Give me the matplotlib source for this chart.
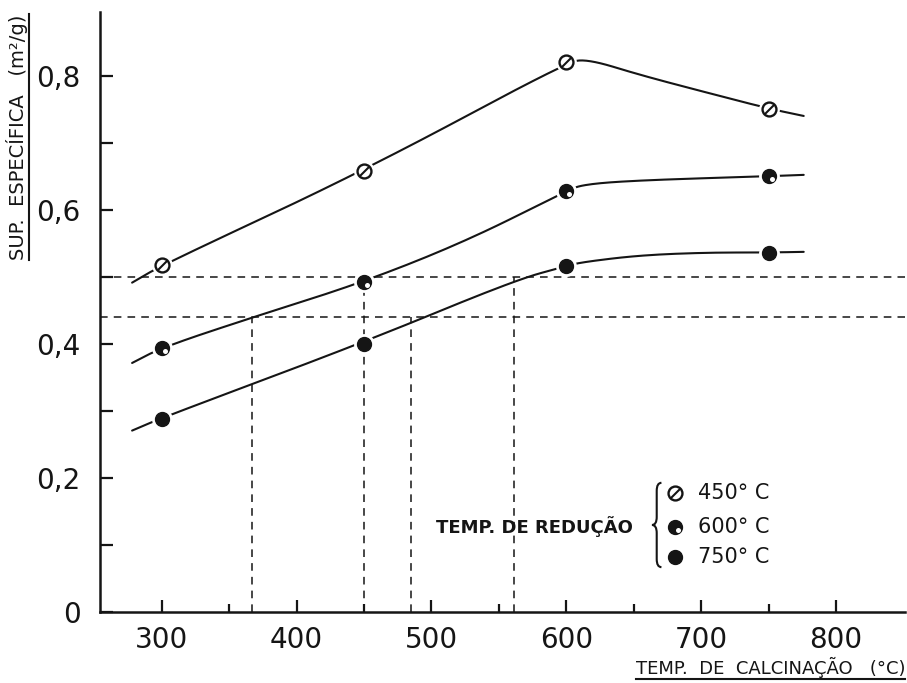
import numpy as np
import matplotlib
matplotlib.use("Agg")
import matplotlib.pyplot as plt
from matplotlib.path import Path
from matplotlib.patches import PathPatch
from matplotlib.lines import Line2D
import matplotlib.transforms as mtransforms

# ---------------- data ----------------
temps = [300, 450, 600, 750]                 # calcination temperature (°C)
s450 = [0.518, 0.659, 0.821, 0.752]          # reduction at 450 °C
s600 = [0.395, 0.493, 0.629, 0.651]          # reduction at 600 °C
s750 = [0.288, 0.400, 0.517, 0.537]          # reduction at 750 °C

# hand-drawn fitted curves (guide points)
curve450_x = [278, 300, 450, 600, 616, 655, 704, 750, 776]
curve450_y = [0.492, 0.518, 0.659, 0.821, 0.826, 0.802, 0.776, 0.752, 0.741]
curve600_x = [278, 300, 367, 450, 528, 600, 613, 655, 750, 776]
curve600_y = [0.372, 0.395, 0.440, 0.493, 0.556, 0.629, 0.639, 0.645, 0.651, 0.653]
curve750_x = [278, 300, 450, 561, 600, 613, 655, 704, 750, 776]
curve750_y = [0.271, 0.290, 0.403, 0.495, 0.517, 0.523, 0.533, 0.537, 0.537, 0.538]

# dashed reading guides
guide_levels = [0.50, 0.44]
guide_x = [367, 450, 485, 561]
guide_top = [0.44, 0.50, 0.44, 0.50]

xticks = [300, 400, 500, 600, 700, 800]
xticklabels = ["300", "400", "500", "600", "700", "800"]
yticks = [0.0, 0.2, 0.4, 0.6, 0.8]
yticklabels = ["0", "0,2", "0,4", "0,6", "0,8"]
legend_labels = ["450° C", "600° C", "750° C"]


def chaikin(x, y, n=4):
    pts = np.column_stack([np.asarray(x, float), np.asarray(y, float)])
    for _ in range(n):
        p0, p1 = pts[:-1], pts[1:]
        q = 0.75 * p0 + 0.25 * p1
        r = 0.25 * p0 + 0.75 * p1
        new = np.empty((2 * len(p0), 2))
        new[0::2] = q
        new[1::2] = r
        pts = np.vstack([pts[:1], new, pts[-1:]])
    return pts[:, 0], pts[:, 1]


fig = plt.figure(figsize=(9.07, 6.83), dpi=100)
ax = fig.add_axes([100 / 907, 71 / 683, 805 / 907, 600 / 683])
ax.set_xlim(254.2, 851.1)
ax.set_ylim(0, 0.8963)

ink = "#151515"

# dashed guides
for lv in guide_levels:
    ax.axhline(lv, color=ink, lw=1.1, ls=(0, (5, 4)), zorder=1.5)
for gx, gt in zip(guide_x, guide_top):
    ax.plot([gx, gx], [0, gt], color=ink, lw=1.1, ls=(0, (5, 4)), zorder=1.5)

# curves
for cx, cy in [(curve450_x, curve450_y), (curve600_x, curve600_y),
               (curve750_x, curve750_y)]:
    xs, ys = chaikin(cx, cy)
    ax.plot(xs, ys, color=ink, lw=1.5, zorder=2, solid_capstyle="round")

# white halos around markers
for s in (s450, s600, s750):
    ax.plot(temps, s, ls="none", marker="o", ms=15, mfc="white", mec="none", zorder=3)

slash = Path([(-0.6, -0.6), (0.6, 0.6)], [Path.MOVETO, Path.LINETO])
hl = mtransforms.ScaledTranslation(2.2 / 72, -2.2 / 72, fig.dpi_scale_trans)


def draw_marker(xs, ys, kind):
    if kind == 0:
        ax.plot(xs, ys, ls="none", marker="o", ms=10, mfc="white", mec=ink, mew=1.7, zorder=4)
        ax.plot(xs, ys, ls="none", marker=slash, ms=6.5, mec=ink, mew=1.5, zorder=5)
    elif kind == 1:
        ax.plot(xs, ys, ls="none", marker="o", ms=10, mfc=ink, mec=ink, mew=1.0, zorder=4)
        ax.plot(xs, ys, ls="none", marker="o", ms=3.6, mfc="white", mec="none",
                zorder=5, transform=ax.transData + hl)
    else:
        ax.plot(xs, ys, ls="none", marker="o", ms=10, mfc=ink, mec=ink, mew=1.0, zorder=4)


draw_marker(temps, s450, 0)
draw_marker(temps, s600, 1)
draw_marker(temps, s750, 2)

# legend (hand-drawn style)
leg_x = 680.6
leg_y = [0.178, 0.127, 0.082]
for i, (ly, lab) in enumerate(zip(leg_y, legend_labels)):
    draw_marker([leg_x], [ly], i)
    ax.text(697.7, ly, lab, ha="left", va="center", fontsize=15, color=ink)
ax.text(649.5, 0.127, "TEMP. DE REDUÇÃO", ha="right", va="center",
        fontsize=13, fontweight="bold", color=ink)

# brace
bx, bt, bb = 667.0, 0.193, 0.067
bm = (bt + bb) / 2
w = 3.5
verts = [(bx + w, bt), (bx, bt), (bx, bt - 0.012),
         (bx, bm + 0.012),
         (bx, bm), (bx - w, bm),
         (bx, bm), (bx, bm - 0.012),
         (bx, bb + 0.012),
         (bx, bb), (bx + w, bb)]
codes = [Path.MOVETO, Path.CURVE3, Path.CURVE3,
         Path.LINETO,
         Path.CURVE3, Path.CURVE3,
         Path.CURVE3, Path.CURVE3,
         Path.LINETO,
         Path.CURVE3, Path.CURVE3]
ax.add_patch(PathPatch(Path(verts, codes), fill=False, ec=ink, lw=1.5, zorder=4))

# axes styling
for sp in ("top", "right"):
    ax.spines[sp].set_visible(False)
for sp in ("left", "bottom"):
    ax.spines[sp].set_linewidth(1.8)
    ax.spines[sp].set_color(ink)

ax.set_xticks(xticks)
ax.set_xticklabels(xticklabels)
ax.set_xticks([350, 450, 550, 650, 750], minor=True)
ax.set_yticks(yticks)
ax.set_yticklabels(yticklabels)
ax.set_yticks([0.1, 0.3, 0.5, 0.7], minor=True)
ax.tick_params(axis="both", which="major", direction="in", length=9, width=1.6,
               labelsize=20, colors=ink)
ax.tick_params(axis="x", which="major", pad=10)
ax.tick_params(axis="y", which="major", pad=14)
ax.tick_params(axis="x", which="minor", direction="in", length=6, width=1.6, colors=ink)
ax.tick_params(axis="y", which="minor", direction="in", length=9, width=1.6, colors=ink)

# axis titles with underline
xl = fig.text(905 / 907, 1 - 667 / 683, "TEMP.  DE  CALCINAÇÃO   (°C)", ha="right",
              va="center", fontsize=13, color=ink)
yl = fig.text(17 / 907, 1 - 137 / 683, "SUP.  ESPECÍFICA   (m²/g)", ha="center",
              va="center", rotation=90, fontsize=14, color=ink)

fig.canvas.draw()
r = fig.canvas.get_renderer()
bx_ = xl.get_window_extent(r)
by_ = yl.get_window_extent(r)
W, H = fig.bbox.width, fig.bbox.height
fig.add_artist(Line2D([bx_.x0 / W, bx_.x1 / W], [(bx_.y0 - 1) / H] * 2,
                      color=ink, lw=1.5, transform=fig.transFigure))
fig.add_artist(Line2D([(by_.x1 + 1) / W] * 2, [by_.y0 / H, by_.y1 / H],
                      color=ink, lw=1.5, transform=fig.transFigure))

fig.savefig("out.png", dpi=100)
